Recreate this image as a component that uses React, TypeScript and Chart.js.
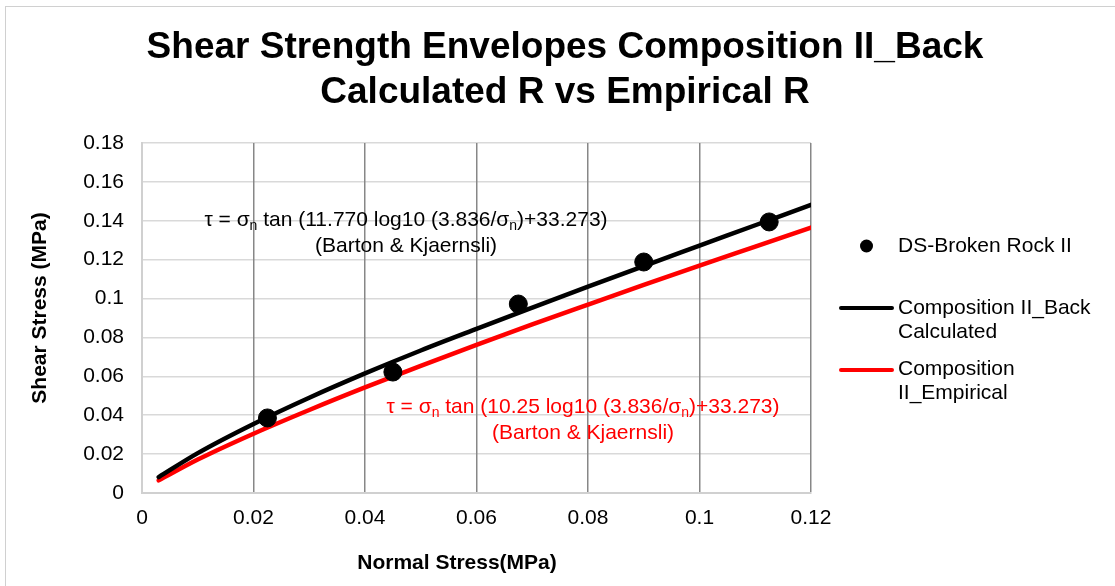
import React, { useEffect, useRef } from "react";
import { Chart, registerables } from "chart.js";

Chart.register(...registerables);

const FONT = "'Liberation Sans', Arial, Helvetica, sans-serif";

// ---- texts ----
const titleLines = ["Shear Strength Envelopes Composition II_Back", "Calculated R vs Empirical R"];
const xAxisTitle = "Normal Stress(MPa)";
const yAxisTitle = "Shear Stress (MPa)";
const seriesNames = ["DS-Broken Rock II", "Composition II_Back Calculated", "Composition II_Empirical"];
const legendLines = [["DS-Broken Rock II"], ["Composition II_Back", "Calculated"], ["Composition", "II_Empirical"]];
const backEquation: [string, boolean][] = [
  ["τ = σ", false], ["n", true], [" tan (11.770 log10 (3.836/σ", false], ["n", true], [")+33.273)", false],
];
const empEquation: [string, boolean][] = [
  ["τ = σ", false], ["n", true], [" tan (10.25 log10 (3.836/σ", false], ["n", true], [")+33.273)", false],
];
const equationSource = "(Barton & Kjaernsli)";

// ---- data ----
const testNormal = [0.0225, 0.045, 0.0675, 0.09, 0.1125];
const testShear = [0.0386, 0.0622, 0.0972, 0.1188, 0.1394];

const envelopeNormal = [0.003, 0.01, 0.02, 0.03, 0.04, 0.05, 0.06, 0.07, 0.08, 0.09, 0.1, 0.11, 0.12];
const backCalcShear = [0.0082, 0.0205, 0.0355, 0.049, 0.0615, 0.0733, 0.0844, 0.0953, 0.1061, 0.1167, 0.1272, 0.1377, 0.1482];
const empiricalShear = [0.0065, 0.0172, 0.0305, 0.0427, 0.0543, 0.0654, 0.0762, 0.0867, 0.0969, 0.107, 0.1169, 0.1267, 0.1365];

// ---- axis ranges ----
const xMin = 0, xMax = 0.12, xStep = 0.02;
const yMin = 0, yMax = 0.18, yStep = 0.02;

const W = 1115, H = 586;

function drawRich(ctx: CanvasRenderingContext2D, segs: [string, boolean][], cx: number, cy: number, color: string) {
  const widths = segs.map(([t, sub]) => {
    ctx.font = sub ? `14px ${FONT}` : `21px ${FONT}`;
    return ctx.measureText(t).width;
  });
  const total = widths.reduce((a, b) => a + b, 0);
  let x = cx - total / 2;
  ctx.fillStyle = color;
  ctx.textBaseline = "middle";
  ctx.textAlign = "left";
  segs.forEach(([t, sub], i) => {
    ctx.font = sub ? `14px ${FONT}` : `21px ${FONT}`;
    ctx.fillText(t, x, sub ? cy + 6 : cy);
    x += widths[i];
  });
}

const decorPlugin = {
  id: "decor",
  beforeDraw(chart: any) {
    const ctx = chart.ctx as CanvasRenderingContext2D;
    ctx.save();
    ctx.fillStyle = "#ffffff";
    ctx.fillRect(0, 0, W, H);
    ctx.strokeStyle = "#d0d0d0";
    ctx.lineWidth = 1;
    ctx.strokeRect(5.5, 6.5, W + 10, H + 10);
    ctx.restore();
  },
  afterDraw(chart: any) {
    const ctx = chart.ctx as CanvasRenderingContext2D;
    ctx.save();
    // title
    ctx.fillStyle = "#000";
    ctx.textAlign = "center";
    ctx.textBaseline = "middle";
    ctx.font = `bold 37px ${FONT}`;
    ctx.fillText(titleLines[0], 565, 48);
    ctx.fillText(titleLines[1], 565, 93);

    // axis titles
    ctx.font = `bold 21px ${FONT}`;
    ctx.fillText(xAxisTitle, 457, 563);
    ctx.save();
    ctx.translate(40, 308);
    ctx.rotate(-Math.PI / 2);
    ctx.fillText(yAxisTitle, 0, 0);
    ctx.restore();

    // equations
    drawRich(ctx, backEquation, 406, 220, "#000");
    ctx.textAlign = "center";
    ctx.font = `21px ${FONT}`;
    ctx.fillStyle = "#000";
    ctx.fillText(equationSource, 406, 246);
    drawRich(ctx, empEquation, 583, 407, "#ff0000");
    ctx.textAlign = "center";
    ctx.font = `21px ${FONT}`;
    ctx.fillStyle = "#ff0000";
    ctx.fillText(equationSource, 583, 433);

    // legend
    ctx.textAlign = "left";
    ctx.textBaseline = "middle";
    ctx.font = `21px ${FONT}`;
    ctx.fillStyle = "#000";
    ctx.beginPath();
    ctx.arc(866.5, 246, 6.5, 0, Math.PI * 2);
    ctx.fill();
    ctx.fillText(legendLines[0][0], 898, 246);

    ctx.lineCap = "round";
    ctx.lineWidth = 4;
    ctx.strokeStyle = "#000";
    ctx.beginPath();
    ctx.moveTo(841, 308);
    ctx.lineTo(892, 308);
    ctx.stroke();
    ctx.fillText(legendLines[1][0], 898, 308);
    ctx.fillText(legendLines[1][1], 898, 332);

    ctx.strokeStyle = "#ff0000";
    ctx.beginPath();
    ctx.moveTo(841, 370);
    ctx.lineTo(892, 370);
    ctx.stroke();
    ctx.fillText(legendLines[2][0], 898, 369);
    ctx.fillText(legendLines[2][1], 898, 393);
    ctx.restore();
  },
};

const fmt = (v: any) => String(parseFloat(Number(v).toFixed(2)));

export default function App() {
  const ref = useRef<HTMLCanvasElement | null>(null);

  useEffect(() => {
    document.body.style.margin = "0";
    const canvas = ref.current;
    if (!canvas) return;
    const chart = new Chart(canvas, {
      type: "scatter",
      data: {
        datasets: [
          {
            label: seriesNames[0],
            data: testNormal.map((x, i) => ({ x, y: testShear[i] })),
            backgroundColor: "#000",
            borderColor: "#000",
            pointRadius: 9,
            pointHoverRadius: 9,
            showLine: false,
          },
          {
            label: seriesNames[1],
            data: envelopeNormal.map((x, i) => ({ x, y: backCalcShear[i] })),
            borderColor: "#000",
            backgroundColor: "#000",
            borderWidth: 4.5,
            pointRadius: 0,
            showLine: true,
            cubicInterpolationMode: "monotone",
            borderCapStyle: "round",
          },
          {
            label: seriesNames[2],
            data: envelopeNormal.map((x, i) => ({ x, y: empiricalShear[i] })),
            borderColor: "#ff0000",
            backgroundColor: "#ff0000",
            borderWidth: 4.5,
            pointRadius: 0,
            showLine: true,
            cubicInterpolationMode: "monotone",
            borderCapStyle: "round",
          },
        ],
      },
      options: {
        responsive: false,
        animation: false,
        events: [],
        layout: { padding: { left: 0, top: 143, right: W - 811, bottom: 0 } },
        plugins: {
          legend: { display: false },
          title: { display: false },
          tooltip: { enabled: false },
        },
        scales: {
          x: {
            type: "linear",
            min: xMin,
            max: xMax,
            afterFit: (s: any) => { s.height = H - 493; },
            ticks: {
              stepSize: xStep,
              padding: 13,
              color: "#000",
              font: { family: FONT, size: 21 },
              callback: fmt,
              maxRotation: 0,
            },
            grid: { color: "#878787", lineWidth: 1.5, drawTicks: false, z: -1 },
            border: { color: "#d0d0d0", width: 2 },
          },
          y: {
            type: "linear",
            min: yMin,
            max: yMax,
            afterFit: (s: any) => { s.width = 142; },
            ticks: {
              stepSize: yStep,
              padding: 18,
              color: "#000",
              font: { family: FONT, size: 21 },
              callback: fmt,
            },
            grid: { color: "#d9d9d9", lineWidth: 1.5, drawTicks: false, z: -2 },
            border: { color: "#d0d0d0", width: 2 },
          },
        },
      },
      plugins: [decorPlugin],
    } as any);
    return () => chart.destroy();
  }, []);

  return (
    <div style={{ width: W, height: H, position: "relative" }}>
      <canvas ref={ref} width={W} height={H} style={{ display: "block", width: W, height: H }} />
    </div>
  );
}
